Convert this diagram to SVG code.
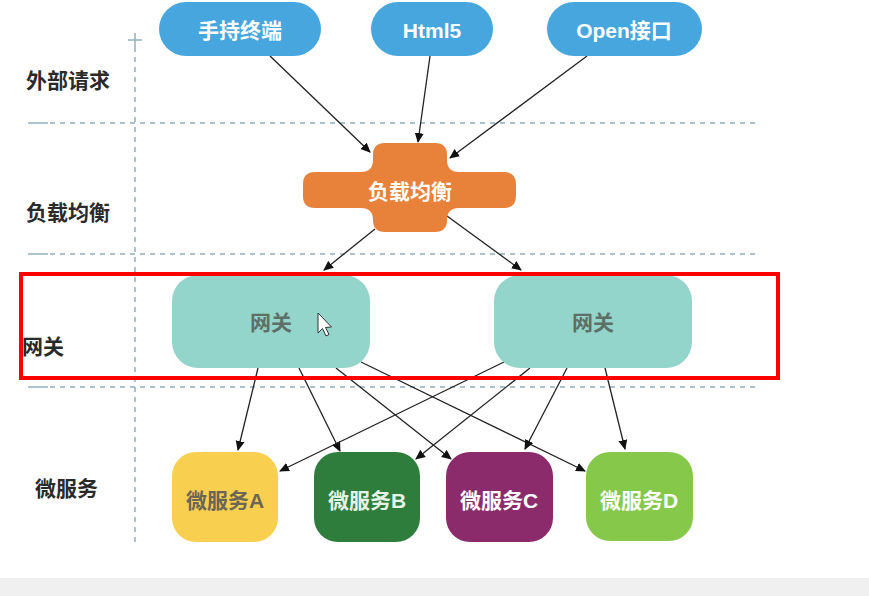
<svg xmlns="http://www.w3.org/2000/svg" width="869" height="596" viewBox="0 0 869 596">
<defs>
<style>
.lbl{font-family:"Liberation Sans","Noto Sans CJK SC",sans-serif;font-size:21px;font-weight:bold;fill:#2a2a2a;}
.nt{font-family:"Liberation Sans","Noto Sans CJK SC",sans-serif;font-size:21px;font-weight:bold;text-anchor:middle;dominant-baseline:central;}
.dash{stroke:#8fb0bf;stroke-width:1.5;stroke-dasharray:5 5;fill:none;}
.tick{stroke:#8fb0bf;stroke-width:1.5;fill:none;}
.edge{stroke:#222;stroke-width:1.3;fill:none;marker-end:url(#ah);}
</style>
<marker id="ah" viewBox="0 0 10 10" refX="9" refY="5" markerWidth="10" markerHeight="10" markerUnits="userSpaceOnUse" orient="auto">
<path d="M0,0.5 L10,5 L0,9.5 Z" fill="#111"/>
</marker>
</defs>
<rect width="869" height="596" fill="#fff"/>
<rect x="0" y="578" width="869" height="18" fill="#f0f0f0"/>

<g id="grid">
<line class="dash" x1="135" y1="47" x2="135" y2="545"/>
<line class="tick" x1="135" y1="33" x2="135" y2="47"/>
<line class="tick" x1="128" y1="40" x2="142" y2="40"/>
<line class="dash" x1="50" y1="123" x2="760" y2="123"/>
<line class="tick" x1="28" y1="123" x2="48" y2="123"/>
<line class="dash" x1="50" y1="254" x2="760" y2="254"/>
<line class="tick" x1="28" y1="254" x2="48" y2="254"/>
<line class="dash" x1="50" y1="387" x2="760" y2="387"/>
<line class="tick" x1="28" y1="387" x2="48" y2="387"/>
</g>

<g id="lane-labels">
<text class="lbl" x="26" y="88">外部请求</text>
<text class="lbl" x="26" y="220">负载均衡</text>
<text class="lbl" x="22" y="354">网关</text>
<text class="lbl" x="35" y="496">微服务</text>
</g>

<g id="connectors">
<line class="edge" x1="270" y1="56" x2="370" y2="152"/>
<line class="edge" x1="430" y1="56" x2="418" y2="142"/>
<line class="edge" x1="587" y1="56" x2="450" y2="158"/>
<line class="edge" x1="375" y1="229" x2="324" y2="270"/>
<line class="edge" x1="447" y1="216" x2="521" y2="270"/>
<line class="edge" x1="258" y1="368" x2="238" y2="450"/>
<line class="edge" x1="299" y1="368" x2="340" y2="451"/>
<line class="edge" x1="336" y1="368" x2="451" y2="459"/>
<line class="edge" x1="361" y1="362" x2="585" y2="471"/>
<line class="edge" x1="504" y1="362" x2="280" y2="471"/>
<line class="edge" x1="530" y1="368" x2="416" y2="459"/>
<line class="edge" x1="567" y1="368" x2="525" y2="449"/>
<line class="edge" x1="605" y1="368" x2="625" y2="449"/>
</g>

<g id="n-mobile">
<rect x="159" y="2" width="162" height="54" rx="27" fill="#47a6dd"/>
<text class="nt" x="240" y="30" fill="#fff">手持终端</text>
</g>
<g id="n-html5">
<rect x="371" y="2" width="122" height="54" rx="27" fill="#47a6dd"/>
<text class="nt" x="432" y="30" fill="#fff">Html5</text>
</g>
<g id="n-open">
<rect x="547" y="2" width="155" height="54" rx="27" fill="#47a6dd"/>
<text class="nt" x="624" y="30" fill="#fff">Open接口</text>
</g>

<g id="n-lb">
<path d="M385,143 H435 Q447,143 447,155 V160 Q447,172 459,172 H504 Q516,172 516,184 V196 Q516,208 504,208 H459 Q447,208 447,220 Q447,232 435,232 H385 Q373,232 373,220 Q373,208 361,208 H315 Q303,208 303,196 V184 Q303,172 315,172 H361 Q373,172 373,160 V155 Q373,143 385,143 Z" fill="#e8823a"/>
<text class="nt" x="410" y="191" fill="#fff">负载均衡</text>
</g>

<g id="n-gw1">
<rect x="172" y="275" width="198" height="93" rx="26" fill="#93d5ca"/>
<text class="nt" x="271" y="322" fill="#5e6f68">网关</text>
</g>
<g id="n-gw2">
<rect x="494" y="275" width="198" height="93" rx="26" fill="#93d5ca"/>
<text class="nt" x="593" y="322" fill="#5e6f68">网关</text>
</g>

<g id="n-msa">
<rect x="172" y="452" width="106" height="90" rx="24" fill="#f8cf4f"/>
<text class="nt" x="225" y="500" fill="#6b6656">微服务A</text>
</g>
<g id="n-msb">
<rect x="314" y="452" width="106" height="90" rx="24" fill="#2f7d3c"/>
<text class="nt" x="367" y="500" fill="#e4f3e4">微服务B</text>
</g>
<g id="n-msc">
<rect x="446" y="452" width="107" height="90" rx="24" fill="#8b2b6b"/>
<text class="nt" x="499" y="500" fill="#fff">微服务C</text>
</g>
<g id="n-msd">
<rect x="586" y="452" width="107" height="89" rx="24" fill="#86c84a"/>
<text class="nt" x="639" y="500" fill="#fff">微服务D</text>
</g>

<g id="highlight">
<rect x="21" y="274" width="757" height="104" fill="none" stroke="#f00" stroke-width="4"/>
</g>

<g id="cursor">
<path d="M318,313 L318,333 L322.5,328.5 L326,336 L329,334.5 L325.5,327.5 L331.5,327 Z" fill="#fff" stroke="#333" stroke-width="1"/>
</g>
</svg>
